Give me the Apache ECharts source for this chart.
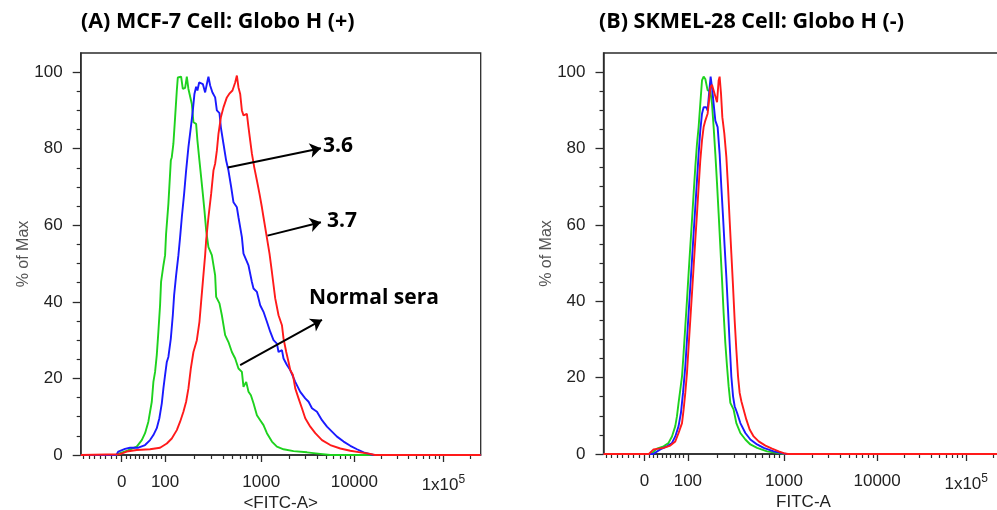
<!DOCTYPE html>
<html><head><meta charset="utf-8">
<script src="https://cdn.jsdelivr.net/npm/echarts@6/dist/echarts.min.js"></script>
<style>html,body{margin:0;padding:0;background:#fff}#c{width:997px;height:510px}</style>
</head><body><div id="c"></div>
<script>
// ---------- data (FITC-A value, % of Max) ----------
const GREEN_A = [[-75,0],[-10,0],[-3.1,0.5],[14.5,1.2],[26.1,1.8],[34.6,2.2],[46.2,3.9],[53.8,5.7],[61.4,8.7],[69.3,13.9],[73.0,19.1],[76.9,21.7],[80.8,26.1],[84.5,32.2],[88.4,39.1],[90.7,45.2],[96.1,49.5],[100,52.2],[102.4,57.8],[108.2,65.6],[114.7,76.9],[117.4,77.8],[122.0,81.3],[127.1,88.2],[132.4,95.2],[135.6,98.6],[146.8,98.8],[152.9,95.6],[161.6,95.9],[168.3,98.8],[174.9,95.6],[182.2,96.0],[189.7,91.7],[197.2,86.9],[210.3,86.5],[217.0,82.1],[227.7,76.9],[237.1,72.6],[247.0,68.2],[256.7,63.9],[267.4,58.7],[282.5,54.3],[306.5,52.2],[331.7,46.9],[339.8,41.3],[367.9,39.6],[389.6,36.5],[421.7,31.3],[456.5,29.5],[495.3,26.9],[536.1,25.2],[580.1,22.6],[629.5,21.7],[654.1,17.8],[698.2,19.1],[737.7,16.5],[781.3,15.6],[831.6,13.5],[902.4,10.4],[976.3,9.1],[1058.6,7.8],[1151.9,5.7],[1303,3.5],[1475,2.2],[1737,1.5],[2225,1.0],[3099,0.7],[4310,0.3],[5521,0],[262144,0]];
const BLUE_A = [[-75,0],[-10,0],[-6.2,0.9],[7.6,1.6],[19.2,1.9],[38.3,1.9],[53.8,2.6],[65.3,3.9],[73.0,5.2],[80.8,7.0],[86.8,9.6],[92.4,13.5],[96.1,17.4],[100,20.9],[104.2,24.3],[108.2,25.6],[112.7,26.1],[114.7,30.4],[120.3,36.5],[124.1,41.7],[130.2,46.9],[137.6,52.2],[143.3,56.9],[149.3,62.1],[157.7,68.2],[165.5,74.3],[174.9,80.4],[185.3,85.6],[194.4,90.0],[202.0,94.3],[210.3,96.2],[217.0,95.2],[226.1,97.3],[237.1,97.6],[247.0,96.9],[261.0,94.7],[271.9,96.9],[282.5,98.8],[294.3,96.5],[311.0,94.7],[331.7,93.4],[345.6,90.0],[367.9,89.3],[380.4,85.6],[404.9,81.3],[431.9,76.9],[456.5,74.3],[486.9,70.0],[514.7,66.0],[536.1,65.6],[558.3,64.7],[580.1,62.1],[629.5,56.9],[654.1,52.6],[681.3,52.2],[737.7,49.5],[800.3,45.2],[831.6,43.5],[902.4,42.6],[976.3,39.1],[1058.6,37.4],[1151.9,34.8],[1249.7,32.2],[1356,30.0],[1475,29.1],[1535,26.9],[1670,27.4],[1737,25.2],[1889,23.5],[2050,22.2],[2321,19.1],[2627,16.5],[2972,14.8],[3226,13.9],[3510,12.2],[3971,11.3],[4495,9.1],[5088,7.4],[5757,6.1],[6516,4.8],[7674,3.5],[9057,2.4],[10723,1.5],[12720,0.7],[15128,0.2],[16500,0],[262144,0]];
const RED_A = [[-75,0],[-3.1,0.2],[11.5,0.9],[34.6,1.3],[65.3,1.5],[88.4,1.9],[104.2,3.0],[117.4,4.3],[132.4,6.5],[143.3,8.7],[155.1,11.3],[165.5,13.9],[174.9,17.4],[185.3,22.6],[197.2,26.9],[213.9,30.0],[227.7,34.8],[237.1,40.0],[247.0,45.2],[261.0,52.2],[267.4,56.1],[282.5,62.1],[301.4,68.2],[318.5,74.3],[331.7,76.1],[345.6,79.5],[359.2,83.9],[380.4,88.2],[404.9,90.8],[439.2,93.4],[464.2,94.3],[502.4,95.2],[514.7,94.7],[536.1,97.3],[558.3,99.1],[580.1,96.0],[604.3,94.3],[629.5,90.0],[654.1,88.7],[709.6,89.1],[737.7,85.6],[768.4,82.1],[800.3,78.7],[845.6,75.2],[902.4,71.7],[960.1,68.2],[1017.5,64.7],[1058.6,62.1],[1131.8,57.8],[1228.3,52.6],[1303,47.8],[1414.5,40.9],[1535,36.5],[1670,33.9],[1737,30.4],[1857,26.9],[1966,24.3],[2050,22.2],[2193,20.9],[2321,17.4],[2518,14.8],[2739,12.2],[2972,9.6],[3365,7.4],[3808,5.7],[4495,3.9],[5521,2.6],[7071,1.7],[9057,1.1],[11681,0.7],[15128,0.3],[17000,0],[262144,0]];

const GREEN_B = [[-75,0],[15,0],[28.6,1.4],[43.9,2.0],[55.4,2.9],[63.3,4.6],[70.9,7.3],[74.8,9.9],[78.5,13.4],[82.4,16.8],[86.4,20.3],[90.1,26.4],[94.0,33.4],[97.9,40.3],[101.7,47.3],[105.9,54.3],[110.3,61.2],[114.7,68.2],[119.4,75.1],[124.4,81.3],[129.3,85.6],[134.6,91.7],[140.2,97.8],[145.8,98.8],[151.8,98.2],[160.4,95.2],[171.2,95.0],[178.2,91.7],[185.3,85.6],[193.0,78.6],[201.0,70.8],[208.8,63.0],[217.5,54.3],[226.6,45.6],[235.4,36.9],[245.2,29.0],[255.4,22.9],[265.5,17.7],[276.5,13.4],[299.2,11.6],[319.2,8.1],[351.4,5.5],[396.2,3.8],[446.7,2.5],[524.6,1.6],[666.8,0.7],[847.5,0.3],[1000,0],[262144,0]];
const BLUE_B = [[-75,0],[20,0],[36.3,1.2],[51.7,2.0],[63.3,2.9],[70.9,4.6],[78.5,7.3],[84.0,10.8],[88.7,16.0],[94.0,22.9],[97.9,29.9],[101.7,36.9],[105.9,43.8],[110.3,50.8],[114.7,57.8],[119.4,64.7],[124.4,71.7],[129.3,78.6],[134.6,84.7],[140.2,89.1],[145.8,90.8],[155.5,90.8],[160.4,89.9],[165.9,94.3],[172.4,98.8],[178.2,96.0],[185.3,91.7],[193.0,87.3],[203.9,85.6],[213.9,78.6],[222.8,69.9],[232.1,62.1],[241.2,54.3],[251.2,46.4],[261.6,37.7],[271.9,29.0],[283.2,20.3],[295.0,15.1],[306.5,12.5],[324.6,10.8],[351.4,8.1],[396.2,5.5],[446.7,3.8],[524.6,2.5],[614.5,1.6],[781.3,0.7],[917.5,0.3],[1050,0],[262144,0]];
const RED_B = [[-75,0],[10,0],[20.8,1.2],[43.9,1.6],[59.3,2.2],[70.9,3.3],[78.5,5.5],[86.4,8.1],[90.1,11.6],[94.0,16.0],[97.9,21.2],[101.7,28.1],[105.9,35.1],[110.3,42.1],[114.7,49.0],[119.4,56.0],[124.4,63.0],[129.3,69.9],[134.6,76.9],[140.2,82.1],[145.8,85.6],[151.8,87.3],[155.5,86.9],[160.4,89.1],[165.9,92.6],[171.2,96.0],[178.2,96.7],[185.3,95.2],[193.0,95.2],[201.0,92.1],[208.8,97.8],[213.9,98.8],[221.2,94.3],[228.2,88.2],[239.4,83.9],[251.2,77.8],[261.6,69.9],[271.9,61.2],[283.2,52.5],[295.0,43.8],[306.5,35.1],[319.2,27.3],[332.5,20.3],[345.6,16.0],[360.0,13.8],[380.4,11.6],[405.9,9.0],[439.2,6.4],[483.4,4.6],[545.2,3.3],[640.2,2.2],[751.6,1.4],[880.7,0.7],[993,0.2],[1100,0],[262144,0]];

// axis ticks (FITC-A values) and labels
const X_MAJOR = [0, 100, 1000, 10000, 100000];
const X_LABELS = ['0', '100', '1000', '10000', '1x10^5'];
const X_MINOR = [-70,-60,-50,-40,-30,-20,-10,10,20,30,40,50,60,70,80,90,200,300,400,500,600,700,800,900,2000,3000,4000,5000,6000,7000,8000,9000,20000,30000,40000,50000,60000,70000,80000,90000,200000];
const Y_MAJOR = [0, 20, 40, 60, 80, 100];
const Y_MINOR = [5,10,15,25,30,35,45,50,55,65,70,75,85,90,95];
const X_RANGE = [-75, 262144];
const Y_RANGE = [0, 105];

const TITLES = ['(A) MCF-7 Cell: Globo H (+)', '(B) SKMEL-28 Cell: Globo H (-)'];
const X_NAMES = ['<FITC-A>', 'FITC-A'];
const Y_NAME = '% of Max';
// annotations on panel A: [fromFITC, from%, toFITC, to%]
const ARROWS = [[450, 75.1, 4385, 80.1], [1169, 57.3, 4385, 60.8], [604, 23.5, 4495, 35.3]];
const NOTES = ['3.6', '3.7', 'Normal sera'];

// ---------- biexponential-like display transform ----------
function T(x) {
  if (x < 0) return 41 + x * 41 / 75;
  if (x < 100) return 41 + x * 0.433;
  if (x < 1000) return 84.3 + 96 * Math.log10(x / 100);
  if (x < 10000) return 180.3 + 93 * Math.log10(x / 1000);
  return 273.3 + 89 * Math.log10(x / 10000);
}
const tr = arr => arr.map(p => [T(p[0]), p[1]]);

const chart = echarts.init(document.getElementById('c'), null, {renderer: 'canvas'});
const FONT = 'Liberation Sans, Arial, sans-serif';
const AXC = '#2b2b2b';
const majorT = X_MAJOR.map(T);
function xLabel(v) {
  let best = 0, d = 1e9;
  majorT.forEach((t, i) => { if (Math.abs(t - v) < d) { d = Math.abs(t - v); best = i; } });
  const s = X_LABELS[best];
  if (s.indexOf('^') >= 0) { const [a, b] = s.split('^'); return '{n|' + a + '}{s|' + b + '}'; }
  return '{n|' + s + '}';
}
const grids = [
  {left: 80.7, top: 53, width: 400, height: 402},
  {left: 603.5, top: 53, width: 400, height: 401}
];
const xAxes = [], yAxes = [];
grids.forEach((g, gi) => {
  xAxes.push({
    gridIndex: gi, type: 'value', min: T(X_RANGE[0]), max: T(X_RANGE[1]), position: 'bottom',
    name: X_NAMES[gi], nameLocation: 'middle', nameGap: 40, nameMoveOverlap: false,
    nameTextStyle: {fontFamily: FONT, fontSize: 17, color: '#222'},
    axisLine: {show: true, onZero: false, lineStyle: {color: AXC, width: 1.5}},
    axisTick: {show: true, customValues: majorT, length: 7, lineStyle: {color: AXC, width: 1.3}},
    axisLabel: {show: true, customValues: majorT, margin: 19, formatter: xLabel,
      rich: {n: {fontFamily: FONT, fontSize: 17, color: '#222'},
             s: {fontFamily: FONT, fontSize: 12, color: '#222', verticalAlign: 'bottom', padding: [0, 0, 10, 0]}}},
    splitLine: {show: false}
  });
  xAxes.push({
    gridIndex: gi, type: 'value', min: T(X_RANGE[0]), max: T(X_RANGE[1]), position: 'bottom',
    axisLine: {show: false, onZero: false},
    axisTick: {show: true, customValues: X_MINOR.map(T), length: 4, lineStyle: {color: AXC, width: 1.2}},
    axisLabel: {show: false}, splitLine: {show: false}
  });
  yAxes.push({
    gridIndex: gi, type: 'value', min: Y_RANGE[0], max: Y_RANGE[1], position: 'left',
    name: Y_NAME, nameLocation: 'middle', nameGap: 49, nameMoveOverlap: false,
    nameTextStyle: {fontFamily: FONT, fontSize: 16, color: '#555'},
    axisLine: {show: true, onZero: false, lineStyle: {color: AXC, width: 1.5}},
    axisTick: {show: true, customValues: Y_MAJOR, length: 8, lineStyle: {color: AXC, width: 1.3}},
    axisLabel: {show: true, customValues: Y_MAJOR, margin: 18, fontFamily: FONT, fontSize: 17, color: '#222'},
    splitLine: {show: false}
  });
  yAxes.push({
    gridIndex: gi, type: 'value', min: Y_RANGE[0], max: Y_RANGE[1], position: 'left',
    axisLine: {show: false, onZero: false},
    axisTick: {show: true, customValues: Y_MINOR, length: 4, lineStyle: {color: AXC, width: 1.2}},
    axisLabel: {show: false}, splitLine: {show: false}
  });
});

const COLORS = {green: '#1ed21e', blue: '#1a1aff', red: '#ff1a1a'};
function line(data, color, gi, extra) {
  return Object.assign({
    type: 'line', xAxisIndex: gi * 2, yAxisIndex: gi * 2, data: tr(data),
    showSymbol: false, symbol: 'none', smooth: false, silent: true, animation: false,
    lineStyle: {color: color, width: 1.9}, itemStyle: {color: color}, z: 3
  }, extra || {});
}
const arrowData = ARROWS.map(a => [{coord: [T(a[0]), a[1]]}, {coord: [T(a[2]), a[3]]}]);
const series = [
  line(GREEN_A, COLORS.green, 0),
  line(BLUE_A, COLORS.blue, 0),
  line(RED_A, COLORS.red, 0, {markLine: {silent: true, animation: false, symbol: ['none', 'arrow'], symbolSize: 11,
      label: {show: false}, lineStyle: {color: '#000', width: 2, type: 'solid'}, emphasis: {disabled: true},
      data: arrowData}}),
  line(GREEN_B, COLORS.green, 1),
  line(BLUE_B, COLORS.blue, 1),
  line(RED_B, COLORS.red, 1)
];
const titleFont = 'bold 21.5px "Open Sans", Lato, sans-serif';
const noteFont = 'bold 21px "Open Sans", Lato, sans-serif';
const graphic = [
  {type: 'text', left: 81, top: 11, style: {text: TITLES[0], font: titleFont, fill: '#000'}},
  {type: 'text', left: 599, top: 11, style: {text: TITLES[1], font: titleFont, fill: '#000'}},
  {type: 'text', left: 323, top: 136, style: {text: NOTES[0], font: noteFont, fill: '#000'}},
  {type: 'text', left: 327, top: 211, style: {text: NOTES[1], font: noteFont, fill: '#000'}},
  {type: 'text', left: 309, top: 288, style: {text: NOTES[2], font: noteFont, fill: '#000'}}
];
chart.setOption({
  animation: false,
  grid: grids.map(g => Object.assign({show: true, borderColor: AXC, borderWidth: 1.3, backgroundColor: 'transparent',
    outerBoundsMode: 'none', containLabel: false}, g)),
  xAxis: xAxes, yAxis: yAxes, series: series, graphic: graphic
});
</script></body></html>
